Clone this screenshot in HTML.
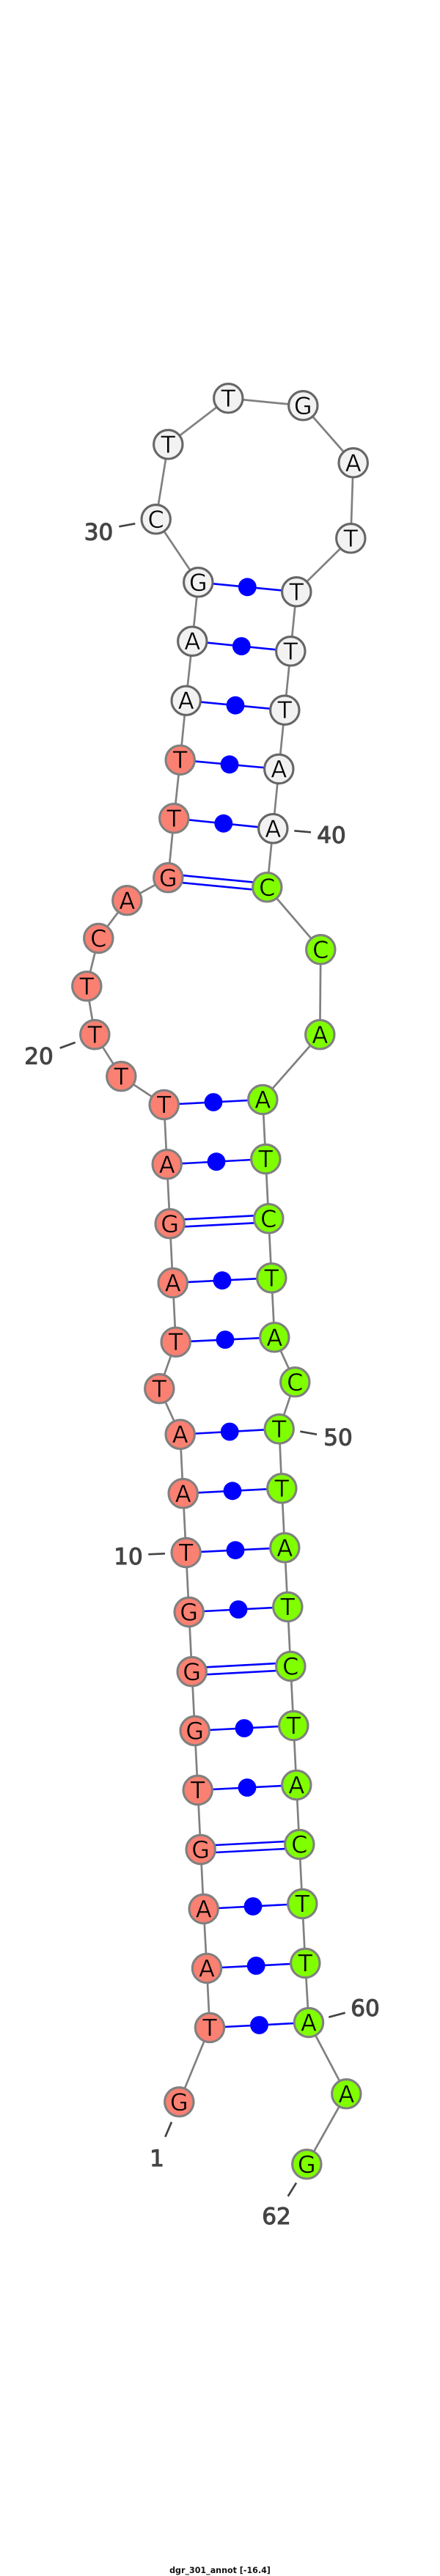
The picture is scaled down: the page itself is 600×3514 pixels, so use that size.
<!DOCTYPE html>
<html><head><meta charset="utf-8"><style>
html,body{margin:0;padding:0;background:#fff;width:600px;height:3514px;overflow:hidden}
svg{display:block}
.n text{font-family:"DejaVu Sans",sans-serif;font-size:32px;fill:#000;text-anchor:middle;stroke-width:.55}
.s text{stroke:#FA8072}
.g text{stroke:#7FFF00}
.w text{stroke:#F2F2F2}
.s circle{fill:#FA8072;stroke:#808080;stroke-width:3.1}
.g circle{fill:#7FFF00;stroke:#808080;stroke-width:3.1}
.w circle{fill:#F2F2F2;stroke:#666;stroke-width:3.1}
.b line{stroke:#0000FF;stroke-width:2.6}
.d circle{fill:#0000FF;r:12.4px}
.l text{font-family:"DejaVu Sans",sans-serif;font-size:31px;fill:#444;stroke:#444;stroke-width:1.1}
.l line{stroke:#444;stroke-width:2.7}
</style></head><body>
<svg width="600" height="3514" viewBox="0 0 600 3514" xmlns="http://www.w3.org/2000/svg">
<polyline fill="none" stroke="#808080" stroke-width="2.7" points="244.3,2867.3 286,2766 282,2685 277.7,2604 273.7,2523 269.7,2442 265.7,2361 261.7,2280.3 257.7,2199 253.7,2118 249.7,2037.3 245.7,1956.7 217.3,1894.3 239.7,1830.7 235.7,1750 231.7,1669.3 227.7,1588.3 223.7,1507 165.3,1468.3 129.3,1411.3 118.3,1345.3 134.3,1280 173.3,1228.3 229.3,1197.3 237.3,1116.3 245.7,1036.7 253.7,955.7 262.3,874.7 270.3,794.3 212.7,708.3 229.3,606.3 311.3,543.3 413.3,553.3 481.7,631.3 478.3,734.3 404.3,807.3 396.3,888.3 388.3,968.7 380.3,1049 372.3,1130.3 364.3,1210.3 437.3,1295.3 436.3,1411.3 358.3,1500 362.3,1581 366.3,1662.3 370.3,1743.3 374.3,1824.3 402.3,1885.3 380.7,1949.3 384.3,2030.3 388.3,2111.3 392.3,2192 396.3,2273 400.3,2354 404.3,2435 408.3,2516 412.3,2597 416.3,2678 421,2759 472.3,2856.3 418.3,2952.3"/>
<g class="b">
<line x1="286" y1="2766" x2="421" y2="2759"/>
<line x1="282" y1="2685" x2="416.3" y2="2678"/>
<line x1="277.7" y1="2604" x2="412.3" y2="2597"/>
<line x1="273.7" y1="2518" x2="408.3" y2="2511"/>
<line x1="273.7" y1="2528" x2="408.3" y2="2521"/>
<line x1="269.7" y1="2442" x2="404.3" y2="2435"/>
<line x1="265.7" y1="2361" x2="400.3" y2="2354"/>
<line x1="261.7" y1="2275.3" x2="396.3" y2="2268"/>
<line x1="261.7" y1="2285.3" x2="396.3" y2="2278"/>
<line x1="257.7" y1="2199" x2="392.3" y2="2192"/>
<line x1="253.7" y1="2118" x2="388.3" y2="2111.3"/>
<line x1="249.7" y1="2037.3" x2="384.3" y2="2030.3"/>
<line x1="245.7" y1="1956.7" x2="380.7" y2="1949.3"/>
<line x1="239.7" y1="1830.7" x2="374.3" y2="1824.3"/>
<line x1="235.7" y1="1750" x2="370.3" y2="1743.3"/>
<line x1="231.7" y1="1664.3" x2="366.3" y2="1657.3"/>
<line x1="231.7" y1="1674.3" x2="366.3" y2="1667.3"/>
<line x1="227.7" y1="1588.3" x2="362.3" y2="1581"/>
<line x1="223.7" y1="1507" x2="358.3" y2="1500"/>
<line x1="229.7" y1="1192.3" x2="364.7" y2="1205.3"/>
<line x1="228.9" y1="1202.3" x2="363.9" y2="1215.3"/>
<line x1="237.3" y1="1116.3" x2="372.3" y2="1130.3"/>
<line x1="245.7" y1="1036.7" x2="380.3" y2="1049"/>
<line x1="253.7" y1="955.7" x2="388.3" y2="968.7"/>
<line x1="262.3" y1="874.7" x2="396.3" y2="888.3"/>
<line x1="270.3" y1="794.3" x2="404.3" y2="807.3"/>
</g>
<g class="d">
<circle cx="353.5" cy="2762.5"/>
<circle cx="349.2" cy="2681.5"/>
<circle cx="345" cy="2600.5"/>
<circle cx="337" cy="2438.5"/>
<circle cx="333" cy="2357.5"/>
<circle cx="325" cy="2195.5"/>
<circle cx="321" cy="2114.7"/>
<circle cx="317" cy="2033.8"/>
<circle cx="313.2" cy="1953"/>
<circle cx="307" cy="1827.5"/>
<circle cx="303" cy="1746.7"/>
<circle cx="295" cy="1584.7"/>
<circle cx="291" cy="1503.5"/>
<circle cx="313" cy="1042.8"/>
<circle cx="304.8" cy="1123.3"/>
<circle cx="321" cy="962.2"/>
<circle cx="329.3" cy="881.5"/>
<circle cx="337.3" cy="800.8"/>
</g>
<g class="l">
<line x1="162.3" y1="718.3" x2="184.3" y2="714.3"/>
<text x="134.5" y="736.7" text-anchor="middle">30</text>
<line x1="401.3" y1="1133.3" x2="424" y2="1135.3"/>
<text x="452" y="1150" text-anchor="middle">40</text>
<line x1="81.7" y1="1429.7" x2="102.7" y2="1422"/>
<text x="53" y="1451.7" text-anchor="middle">20</text>
<line x1="409.3" y1="1952.7" x2="432" y2="1956.7"/>
<text x="461" y="1971.7" text-anchor="middle">50</text>
<line x1="202.3" y1="2120.3" x2="225" y2="2119.3"/>
<text x="175" y="2134" text-anchor="middle">10</text>
<line x1="448.3" y1="2751.7" x2="470.7" y2="2745.7"/>
<text x="498" y="2750" text-anchor="middle">60</text>
<line x1="234" y1="2894.7" x2="225.3" y2="2915"/>
<text x="214" y="2955" text-anchor="middle">1</text>
<line x1="404" y1="2977.7" x2="392.7" y2="2996"/>
<text x="377" y="3034" text-anchor="middle">62</text>
</g>
<g class="n s">
<circle cx="244.3" cy="2867.3" r="19.7"/><text x="244.3" y="2878.8">G</text>
<circle cx="286" cy="2766" r="19.7"/><text x="286" y="2777.5">T</text>
<circle cx="282" cy="2685" r="19.7"/><text x="282" y="2696.5">A</text>
<circle cx="277.7" cy="2604" r="19.7"/><text x="277.7" y="2615.5">A</text>
<circle cx="273.7" cy="2523" r="19.7"/><text x="273.7" y="2534.5">G</text>
<circle cx="269.7" cy="2442" r="19.7"/><text x="269.7" y="2453.5">T</text>
<circle cx="265.7" cy="2361" r="19.7"/><text x="265.7" y="2372.5">G</text>
<circle cx="261.7" cy="2280.3" r="19.7"/><text x="261.7" y="2291.8">G</text>
<circle cx="257.7" cy="2199" r="19.7"/><text x="257.7" y="2210.5">G</text>
<circle cx="253.7" cy="2118" r="19.7"/><text x="253.7" y="2129.5">T</text>
<circle cx="249.7" cy="2037.3" r="19.7"/><text x="249.7" y="2048.8">A</text>
<circle cx="245.7" cy="1956.7" r="19.7"/><text x="245.7" y="1968.2">A</text>
<circle cx="217.3" cy="1894.3" r="19.7"/><text x="217.3" y="1905.8">T</text>
<circle cx="239.7" cy="1830.7" r="19.7"/><text x="239.7" y="1842.2">T</text>
<circle cx="235.7" cy="1750" r="19.7"/><text x="235.7" y="1761.5">A</text>
<circle cx="231.7" cy="1669.3" r="19.7"/><text x="231.7" y="1680.8">G</text>
<circle cx="227.7" cy="1588.3" r="19.7"/><text x="227.7" y="1599.8">A</text>
<circle cx="223.7" cy="1507" r="19.7"/><text x="223.7" y="1518.5">T</text>
<circle cx="165.3" cy="1468.3" r="19.7"/><text x="165.3" y="1479.8">T</text>
<circle cx="129.3" cy="1411.3" r="19.7"/><text x="129.3" y="1422.8">T</text>
<circle cx="118.3" cy="1345.3" r="19.7"/><text x="118.3" y="1356.8">T</text>
<circle cx="134.3" cy="1280" r="19.7"/><text x="134.3" y="1291.5">C</text>
<circle cx="173.3" cy="1228.3" r="19.7"/><text x="173.3" y="1239.8">A</text>
<circle cx="229.3" cy="1197.3" r="19.7"/><text x="229.3" y="1208.8">G</text>
<circle cx="237.3" cy="1116.3" r="19.7"/><text x="237.3" y="1127.8">T</text>
<circle cx="245.7" cy="1036.7" r="19.7"/><text x="245.7" y="1048.2">T</text>
</g>
<g class="n w">
<circle cx="253.7" cy="955.7" r="19.7"/><text x="253.7" y="967.2">A</text>
<circle cx="262.3" cy="874.7" r="19.7"/><text x="262.3" y="886.2">A</text>
<circle cx="270.3" cy="794.3" r="19.7"/><text x="270.3" y="805.8">G</text>
<circle cx="212.7" cy="708.3" r="19.7"/><text x="212.7" y="719.8">C</text>
<circle cx="229.3" cy="606.3" r="19.7"/><text x="229.3" y="617.8">T</text>
<circle cx="311.3" cy="543.3" r="19.7"/><text x="311.3" y="554.8">T</text>
<circle cx="413.3" cy="553.3" r="19.7"/><text x="413.3" y="564.8">G</text>
<circle cx="481.7" cy="631.3" r="19.7"/><text x="481.7" y="642.8">A</text>
<circle cx="478.3" cy="734.3" r="19.7"/><text x="478.3" y="745.8">T</text>
<circle cx="404.3" cy="807.3" r="19.7"/><text x="404.3" y="818.8">T</text>
<circle cx="396.3" cy="888.3" r="19.7"/><text x="396.3" y="899.8">T</text>
<circle cx="388.3" cy="968.7" r="19.7"/><text x="388.3" y="980.2">T</text>
<circle cx="380.3" cy="1049" r="19.7"/><text x="380.3" y="1060.5">A</text>
<circle cx="372.3" cy="1130.3" r="19.7"/><text x="372.3" y="1141.8">A</text>
</g>
<g class="n g">
<circle cx="364.3" cy="1210.3" r="19.7"/><text x="364.3" y="1221.8">C</text>
<circle cx="437.3" cy="1295.3" r="19.7"/><text x="437.3" y="1306.8">C</text>
<circle cx="436.3" cy="1411.3" r="19.7"/><text x="436.3" y="1422.8">A</text>
<circle cx="358.3" cy="1500" r="19.7"/><text x="358.3" y="1511.5">A</text>
<circle cx="362.3" cy="1581" r="19.7"/><text x="362.3" y="1592.5">T</text>
<circle cx="366.3" cy="1662.3" r="19.7"/><text x="366.3" y="1673.8">C</text>
<circle cx="370.3" cy="1743.3" r="19.7"/><text x="370.3" y="1754.8">T</text>
<circle cx="374.3" cy="1824.3" r="19.7"/><text x="374.3" y="1835.8">A</text>
<circle cx="402.3" cy="1885.3" r="19.7"/><text x="402.3" y="1896.8">C</text>
<circle cx="380.7" cy="1949.3" r="19.7"/><text x="380.7" y="1960.8">T</text>
<circle cx="384.3" cy="2030.3" r="19.7"/><text x="384.3" y="2041.8">T</text>
<circle cx="388.3" cy="2111.3" r="19.7"/><text x="388.3" y="2122.8">A</text>
<circle cx="392.3" cy="2192" r="19.7"/><text x="392.3" y="2203.5">T</text>
<circle cx="396.3" cy="2273" r="19.7"/><text x="396.3" y="2284.5">C</text>
<circle cx="400.3" cy="2354" r="19.7"/><text x="400.3" y="2365.5">T</text>
<circle cx="404.3" cy="2435" r="19.7"/><text x="404.3" y="2446.5">A</text>
<circle cx="408.3" cy="2516" r="19.7"/><text x="408.3" y="2527.5">C</text>
<circle cx="412.3" cy="2597" r="19.7"/><text x="412.3" y="2608.5">T</text>
<circle cx="416.3" cy="2678" r="19.7"/><text x="416.3" y="2689.5">T</text>
<circle cx="421" cy="2759" r="19.7"/><text x="421" y="2770.5">A</text>
<circle cx="472.3" cy="2856.3" r="19.7"/><text x="472.3" y="2867.8">A</text>
<circle cx="418.3" cy="2952.3" r="19.7"/><text x="418.3" y="2963.8">G</text>
</g>
<text x="300" y="3510" text-anchor="middle" font-family="'DejaVu Sans',sans-serif" font-weight="bold" font-size="11.1" fill="#111">dgr_301_annot [-16.4]</text>
</svg>
</body></html>
